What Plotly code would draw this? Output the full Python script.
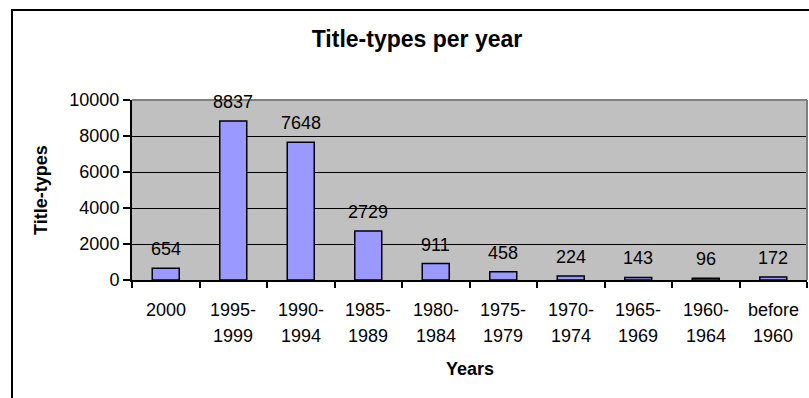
import plotly.graph_objects as go

categories = ["2000", "1995-1999", "1990-1994", "1985-1989", "1980-1984",
              "1975-1979", "1970-1974", "1965-1969", "1960-1964", "before 1960"]
label_line1 = ["2000", "1995-", "1990-", "1985-", "1980-", "1975-", "1970-", "1965-", "1960-", "before"]
label_line2 = ["", "1999", "1994", "1989", "1984", "1979", "1974", "1969", "1964", "1960"]
values = [654, 8837, 7648, 2729, 911, 458, 224, 143, 96, 172]
y_ticks = [0, 2000, 4000, 6000, 8000, 10000]

FONT = "Arial, Liberation Sans, sans-serif"
W, H = 809, 398
ML, MR, MT, MB = 132, 2, 100, 118
PW = W - ML - MR
PH = H - MT - MB

fig = go.Figure()
fig.add_trace(go.Bar(
    x=categories, y=values,
    marker=dict(color="#9999FF", line=dict(color="black", width=1.5)),
    hoverinfo="x+y",
))

annotations = []
for i, v in enumerate(values):
    annotations.append(dict(x=i, y=v, xref="x", yref="y", text=str(v), showarrow=False,
                            yanchor="middle", yshift=19, font=dict(family=FONT, size=18, color="black")))
for i, (l1, l2) in enumerate(zip(label_line1, label_line2)):
    annotations.append(dict(x=i, y=(280 - 310) / PH, xref="x", yref="paper", text=l1, showarrow=False,
                            yanchor="middle", font=dict(family=FONT, size=18, color="black")))
    if l2:
        annotations.append(dict(x=i, y=(280 - 336) / PH, xref="x", yref="paper", text=l2, showarrow=False,
                                yanchor="middle", font=dict(family=FONT, size=18, color="black")))
annotations.append(dict(x=0.5, y=(280 - 369) / PH, xref="paper", yref="paper", text="<b>Years</b>",
                        showarrow=False, yanchor="middle", font=dict(family=FONT, size=18, color="black")))
annotations.append(dict(x=(41 - ML) / PW, y=0.5, xref="paper", yref="paper", text="<b>Title-types</b>",
                        showarrow=False, textangle=-90, xanchor="center", yanchor="middle",
                        font=dict(family=FONT, size=18, color="black")))

shapes = [
    # chart outer frame
    dict(type="rect", xref="paper", yref="paper",
         x0=(12 - ML) / PW, x1=(W + 20 - ML) / PW,
         y0=(280 - (H + 20)) / PH, y1=(280 - 10) / PH,
         line=dict(color="black", width=2), fillcolor="rgba(0,0,0,0)", layer="above"),
    # gray top and right borders of plot area
    dict(type="line", xref="paper", yref="paper", x0=0, x1=1, y0=1, y1=1,
         line=dict(color="#808080", width=2), layer="above"),
    dict(type="line", xref="paper", yref="paper", x0=1, x1=1, y0=0, y1=1,
         line=dict(color="#808080", width=2), layer="above"),
]

fig.update_layout(
    width=W, height=H,
    margin=dict(l=ML, r=MR, t=MT, b=MB, pad=0),
    paper_bgcolor="white",
    plot_bgcolor="#C0C0C0",
    showlegend=False,
    bargap=0.6,
    title=dict(text="<b>Title-types per year</b>", x=417 / W, xref="container", xanchor="center",
               y=1 - 39 / H, yref="container", yanchor="middle",
               font=dict(family=FONT, size=23, color="black")),
    xaxis=dict(type="category", range=[-0.5, len(categories) - 0.5],
               showticklabels=False, ticks="outside", ticklen=6, tickwidth=2,
               tickcolor="black", tickson="boundaries", showline=True, linecolor="black", linewidth=2,
               showgrid=False, zeroline=False, fixedrange=True),
    yaxis=dict(range=[0, 10000], tickvals=y_ticks, ticktext=[str(t) for t in y_ticks],
               ticks="outside", ticklen=7, tickwidth=2, tickcolor="black",
               showline=True, linecolor="black", linewidth=2,
               showgrid=True, gridcolor="black", gridwidth=1, zeroline=False,
               tickfont=dict(family=FONT, size=18, color="black"), fixedrange=True),
    annotations=annotations,
    shapes=shapes,
)

fig.write_html("out.html")
